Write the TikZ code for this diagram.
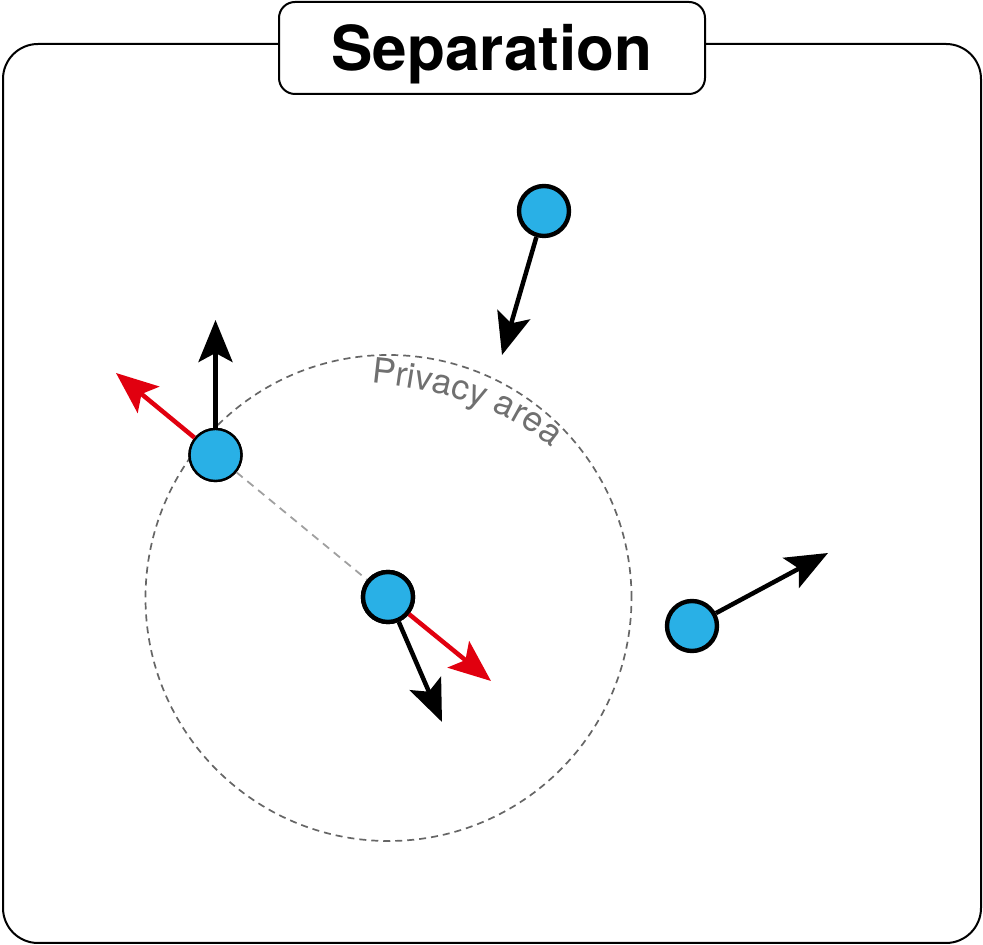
\documentclass[tikz,border=0pt]{standalone}
\usepackage{fontspec}
\setmainfont{TeX Gyre Heros}
\usetikzlibrary{arrows.meta,decorations.text}
\definecolor{boidblue}{RGB}{41,176,230}
\definecolor{pushred}{RGB}{225,0,15}
\definecolor{areagray}{RGB}{102,102,102}
\definecolor{linkgray}{RGB}{160,160,160}
\definecolor{labelgray}{RGB}{112,112,112}
\tikzset{
  boid/.style={circle, draw=black, line width=4.4pt, fill=boidblue, minimum size=50pt, inner sep=0pt},
  boidthin/.style={boid, line width=2.4pt, minimum size=52pt},
  move/.style={draw=black, line width=4.5pt, -{Stealth[length=42pt, width=34pt, inset=9pt]}},
  push/.style={move, draw=pushred, -{Stealth[length=42pt, width=34pt, inset=9pt, fill=pushred]}},
  frame/.style={draw=black, line width=2pt, rounded corners=35pt},
  titlebox/.style={draw=black, line width=2pt, rounded corners=16pt, fill=white,
    minimum width=426pt, minimum height=92pt, inner sep=0pt,
    font=\fontsize{62}{70}\selectfont\bfseries, text height=45pt, text depth=0pt},
  area/.style={circle, draw=areagray, line width=1.7pt, dash pattern=on 7pt off 5pt, minimum size=486pt, inner sep=0pt},
  link/.style={draw=linkgray, line width=1.8pt, dash pattern=on 8pt off 6pt},
}
\begin{document}
\begin{tikzpicture}[x=1pt,y=1pt]
\useasboundingbox (0,0) rectangle (983,945);
% frame
\draw[frame] (3,2) rectangle (981,901);
\node[titlebox] (title) at (492,897) {Separation};
% privacy area
\node[area] (area) at (388.5,347) {};
\coordinate (labstart) at (371,562);
\coordinate (labend) at (552,497);
\path[decorate, decoration={text along path, text align=left,
  text={|\fontsize{35}{40}\selectfont\color{labelgray}|Privacy area}}]
  (labstart) .. controls (436,556) and (502,540) .. (labend);
% boids
\node[boid] (A) at (544,734) {};
\node[boidthin] (B) at (215.5,490) {};
\node[boid] (C) at (388,348) {};
\node[boid] (D) at (692,319) {};
\draw[link] (B) -- (C);
\node[boidthin] at (B) {};
\node[boid] at (C) {};
% tips
\coordinate (tA) at (502,590);
\coordinate (tBup) at (215.5,625);
\coordinate (tBred) at (116,572);
\coordinate (tCb) at (442,223);
\coordinate (tCr) at (491,264);
\coordinate (tD) at (828,392);
% arrows
\draw[move] (A) -- (tA);
\draw[move] (B) -- (tBup);
\draw[push] (B) -- (tBred);
\draw[move] (C) -- (tCb);
\draw[push] (C) -- (tCr);
\draw[move] (D) -- (tD);
\end{tikzpicture}
\end{document}
